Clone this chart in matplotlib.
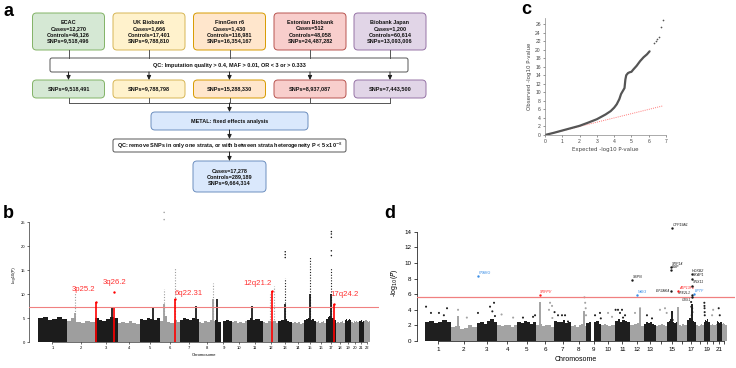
import matplotlib
matplotlib.use("Agg")
import numpy as np
import matplotlib.pyplot as plt
from matplotlib.patches import FancyBboxPatch

plt.rcParams['font.family'] = ['Liberation Sans', 'DejaVu Sans']

W, H = 736, 368

# ---------------- panel a: flowchart ----------------
cohorts = ["ECAC", "UK Biobank", "FinnGen r6", "Estonian Biobank", "Biobank Japan"]
cases = ["12,270", "1,666", "1,430", "512", "1,200"]
controls = ["46,126", "17,401", "116,981", "48,058", "60,614"]
snps_raw = ["9,518,496", "9,788,810", "16,354,167", "24,487,282", "13,093,006"]
snps_qc = ["9,518,491", "9,788,798", "15,288,330", "8,937,087", "7,443,500"]
meta_cases, meta_controls, meta_snps = "17,278", "289,189", "9,664,314"
qc1_text = "QC: Imputation quality > 0.4, MAF > 0.01, OR < 3 or > 0.333"
metal_text = "METAL: fixed effects analysis"
qc2_text = "QC: remove SNPs in only one strata, or with between strata heterogeneity P < 5 x10$^{-8}$"
fills = ["#d5e8d4", "#fff2cc", "#ffe6cc", "#f8cecc", "#e1d5e7"]
edges = ["#82b366", "#d6b656", "#d79b00", "#b85450", "#9673a6"]
blue_fill, blue_edge = "#dae8fc", "#6c8ebf"

# ---------------- chromosome sizes (Mb) ----------------
chrom_mb = [249, 243, 198, 191, 181, 171, 159, 146, 141, 136, 135,
            134, 115, 107, 103, 90, 81, 78, 59, 63, 48, 51]

# ---------------- panel b: Manhattan (GWAS) ----------------
b_base = [
    [4.9, 5.2, 4.6, 4.8, 5.3, 4.7], [4.3, 5.0, 4.2, 4.0, 4.4, 4.1],
    [5.0, 4.6, 4.3, 4.8, 5.2, 5.0], [4.0, 4.2, 3.9, 4.3, 4.0, 3.8],
    [4.8, 4.6, 5.0, 4.7, 4.5, 4.9], [4.4, 5.5, 4.2, 4.0, 4.5, 4.1],
    [4.6, 5.0, 4.8, 4.5, 5.1, 4.7], [4.2, 4.0, 4.3, 4.1, 4.6, 4.4],
    [4.5, 4.2, 0.0, 4.4, 4.6, 4.3], [4.1, 4.3, 4.0, 4.2, 3.9, 4.4],
    [4.6, 4.9, 4.5, 4.8, 4.7, 4.4], [4.2, 4.0, 4.4, 4.1, 4.3, 4.0],
    [4.3, 4.6, 4.5, 4.7, 4.4, 4.2], [3.9, 4.1, 4.0, 4.2, 3.8, 4.0],
    [4.6, 4.8, 5.0, 4.5, 4.7, 4.4], [4.1, 4.3, 4.0, 4.2, 4.4, 4.0],
    [4.8, 5.2, 5.5, 4.9, 5.0, 4.6], [4.0, 4.2, 3.9, 4.1, 4.3, 4.0],
    [4.5, 4.7, 4.4, 4.6, 4.8, 4.5], [4.2, 4.0, 4.3, 4.1, 4.4, 4.2],
    [4.4, 4.6, 4.3, 4.5, 4.2, 4.4], [4.3, 4.5, 4.6, 4.4, 4.2, 4.3],
]
# dense signal columns (chrom, pos Mb, top -log10 P)
b_dense = [(2, 72, 6.0), (3, 150, 7.3), (5, 120, 7.0), (6, 32, 8.0),
           (7, 137, 7.5), (8, 128, 9.0), (9, 10, 9.0), (11, 45, 7.5),
           (13, 60, 8.0), (15, 51, 10.0), (17, 45, 10.0)]
# sparse (dotted) columns
b_sparse = [(2, 72, 10.5), (6, 32, 11.0), (6, 124, 15.4), (8, 128, 12.3),
            (12, 60, 10.0), (12, 100, 11.6), (13, 60, 13.3), (15, 51, 17.7),
            (17, 45, 15.5)]
b_points = [(6, 32, 25.5), (6, 32, 27.0), (13, 60, 17.6), (13, 60, 18.2),
            (13, 60, 18.8), (17, 45, 18.0), (17, 45, 19.0), (17, 45, 21.8),
            (17, 45, 22.5), (17, 45, 23.0)]
b_loci = ["3p25.2", "3q26.2", "6q22.31", "12q21.2", "17q24.2"]
b_loci_chr = [3, 3, 6, 12, 17]
b_loci_pos = [12, 169, 124, 77, 64]
b_loci_top = [8.3, 7.0, 9.0, 10.6, 8.0]
b_loci_lead = [8.3, 10.4, 9.0, 10.6, 8.0]
b_threshold = 7.3

# ---------------- panel c: QQ plot ----------------
qq_exp = [0, 0.5, 1, 1.5, 2, 2.5, 3, 3.5, 3.8, 4.0, 4.15, 4.3, 4.4, 4.5,
          4.6, 4.65, 4.7, 4.8, 4.9, 5.0, 5.1, 5.3, 5.5, 5.7, 5.9, 6.05]
qq_obs = [0, 0.5, 1.05, 1.6, 2.15, 2.9, 3.7, 4.8, 5.6, 6.4, 7.2, 8.4, 9.6,
          10.3, 11.0, 13.0, 14.0, 14.5, 14.7, 14.8, 15.3, 16.2, 17.3, 18.2, 18.9, 19.6]
qq_top_exp = [6.3, 6.4, 6.5, 6.6, 6.7, 6.85]
qq_top_obs = [21.5, 22.0, 22.5, 23.0, 25.3, 27.0]

# ---------------- panel d: Manhattan (TWAS) ----------------
d_base = [
    [2.4, 2.6, 2.3, 2.5, 2.7, 2.4], [1.8, 1.9, 1.6, 1.7, 2.0, 1.8],
    [2.3, 2.5, 2.2, 2.6, 2.8, 2.5], [2.0, 1.9, 2.1, 2.0, 1.8, 2.1],
    [2.5, 2.3, 2.6, 2.4, 2.2, 2.5], [2.0, 2.2, 1.9, 2.1, 2.0, 1.8],
    [2.6, 2.4, 2.5, 2.7, 2.3, 2.5], [1.9, 2.0, 1.8, 2.1, 2.2, 1.9],
    [2.3, 2.5, 0.0, 2.4, 2.6, 2.2], [2.0, 2.2, 2.1, 1.9, 2.0, 2.1],
    [2.6, 2.8, 2.5, 2.7, 2.6, 2.4], [2.1, 2.0, 2.2, 2.3, 2.0, 1.9],
    [2.2, 2.4, 2.3, 2.5, 2.2, 2.1], [1.9, 2.1, 2.0, 2.2, 2.0, 1.9],
    [2.4, 2.6, 2.8, 2.5, 2.3, 2.4], [2.0, 2.1, 1.9, 2.2, 2.0, 2.1],
    [2.7, 2.9, 3.0, 2.8, 2.6, 2.5], [2.0, 2.1, 1.9, 2.0, 2.2, 2.0],
    [2.5, 2.7, 2.6, 2.8, 2.5, 2.4], [2.1, 2.0, 2.2, 2.1, 2.0, 2.2],
    [2.4, 2.6, 2.5, 2.3, 2.4, 2.5], [2.2, 2.1, 2.3, 2.2, 2.0, 2.1],
]
d_cols = [(6, 30, 5.0), (16, 3, 4.4), (12, 100, 4.2), (8, 128, 3.8),
          (15, 45, 3.8), (17, 42, 4.8), (2, 66, 3.2)]
d_points = [
    (1, 10, 4.4), (1, 57, 3.6), (1, 133, 3.6), (1, 210, 4.2), (1, 180, 3.3),
    (2, 66, 4.0), (2, 150, 3.0), (3, 13, 3.6), (3, 128, 4.4), (3, 166, 4.9),
    (3, 175, 3.2), (3, 150, 3.8), (4, 40, 3.4), (4, 150, 3.0),
    (5, 53, 3.0), (5, 149, 3.1), (5, 168, 3.3), (6, 130, 4.9), (6, 149, 4.5),
    (6, 120, 4.0), (6, 152, 2.95), (7, 2, 3.7), (7, 35, 3.3), (7, 73, 3.3),
    (7, 102, 3.3), (7, 130, 2.5), (8, 128, 5.6), (8, 135, 4.9), (8, 140, 4.2),
    (8, 143, 3.3), (9, 83, 3.3), (9, 130, 3.6), (9, 138, 2.9), (10, 66, 3.6),
    (10, 104, 3.1), (11, 2, 4.0), (11, 25, 4.0), (11, 63, 4.0), (11, 44, 3.6),
    (11, 92, 3.3), (11, 73, 3.0), (12, 52, 3.6), (12, 100, 4.2), (13, 32, 3.3),
    (13, 80, 2.9), (14, 41, 4.0), (14, 89, 4.2), (14, 105, 3.6), (15, 49, 3.6),
    (15, 55, 2.7), (17, 38, 5.0), (17, 40, 4.4), (17, 48, 4.2), (17, 44, 3.3),
    (17, 50, 3.7), (19, 5, 4.9), (19, 6, 4.5), (19, 7, 4.2), (19, 8, 3.7),
    (19, 9, 3.3), (20, 30, 4.0), (20, 20, 3.3), (21, 20, 4.2), (21, 30, 3.3),
]
d_genes = ["PPARG", "SRPPV", "SSPN", "NAV3", "CYP19A1", "SRP14", "BMF",
           "EIF2AK4", "ATP13P2", "HOXB2", "SKAP1", "SNX11", "NFE2L1", "CBX1", "BPTF"]
d_gene_chr = [3, 6, 12, 12, 15, 15, 15, 15, 16, 17, 17, 17, 17, 17, 17]
d_gene_pos = [13, 30, 23, 71, 51, 40, 40, 40, 3, 42, 43, 43, 42, 42, 65]
d_gene_y = [8.3, 5.9, 7.8, 5.9, 14.5, 9.5, 9.1, 6.4, 6.4, 8.6, 8.0, 7.1, 5.9, 5.6, 6.0]
d_gene_col = ["blue", "red", "black", "blue", "black", "black", "black", "black",
              "red", "black", "black", "black", "black", "black", "blue"]
d_gene_left = [False, False, False, False, False, False, False, True,
               False, False, False, False, True, True, False]
d_threshold = 5.6
d_tick_show = [1, 2, 3, 4, 5, 6, 7, 8, 9, 10, 11, 12, 13, 15, 17, 19, 21]

# ---------------- helpers ----------------
starts = np.concatenate([[0], np.cumsum(chrom_mb)[:-1]])
centers = starts + np.array(chrom_mb) / 2.0
genome_end = float(np.sum(chrom_mb))


def gx(ch, pos):
    return starts[ch - 1] + pos


def draw_base(ax, base, dark, light):
    for i, hs in enumerate(base):
        seg = chrom_mb[i] / len(hs)
        lefts = starts[i] + seg * np.arange(len(hs))
        ax.bar(lefts, hs, width=seg, align='edge', linewidth=0,
               color=dark if i % 2 == 0 else light, zorder=1)


fig = plt.figure(figsize=(W / 100, H / 100), dpi=100)

# ---------- flowchart overlay ----------
axa = fig.add_axes([0, 0, 1, 1])
axa.set_xlim(0, W)
axa.set_ylim(H, 0)
axa.axis('off')
LC = "#555555"


def box(x0, y0, x1, y1, fc, ec, txt, r=4, fs=4.0, ls=1.25):
    axa.add_patch(FancyBboxPatch((x0, y0), x1 - x0, y1 - y0,
                                 boxstyle="round,pad=0,rounding_size=%g" % r,
                                 fc=fc, ec=ec, lw=0.7))
    axa.text((x0 + x1) / 2, (y0 + y1) / 2, txt, ha='center', va='center',
             fontsize=fs, fontweight='bold', linespacing=ls, color="#111111")


def arrow(x, y0, y1):
    axa.annotate("", xy=(x, y1), xytext=(x, y0),
                 arrowprops=dict(arrowstyle="-|>,head_length=0.25,head_width=0.12",
                                 color="#222222", lw=0.7, shrinkA=0, shrinkB=0))


cx = [68.5, 149, 229.5, 310, 390]
bw = 72
for i in range(5):
    box(cx[i] - bw / 2, 13, cx[i] + bw / 2, 50, fills[i], edges[i],
        "%s\nCases=%s\nControls=%s\nSNPs=%s" % (cohorts[i], cases[i], controls[i], snps_raw[i]))
    axa.plot([cx[i], cx[i]], [50, 58], color=LC, lw=0.7)
    arrow(cx[i], 72, 80)
    box(cx[i] - bw / 2, 80, cx[i] + bw / 2, 98, fills[i], edges[i], "SNPs=%s" % snps_qc[i])
    axa.plot([cx[i], cx[i]], [98, 103], color=LC, lw=0.7)
box(50, 58, 408, 72, "white", LC, qc1_text, r=2)
axa.plot([cx[0], cx[-1]], [103, 103], color=LC, lw=0.7)
arrow(229.5, 103, 112)
box(151, 112, 308, 130, blue_fill, blue_edge, metal_text)
arrow(229.5, 130, 139)
box(113, 139, 346, 152, "white", LC, qc2_text, r=2)
arrow(229.5, 152, 161)
box(193, 161, 266, 192, blue_fill, blue_edge,
    "Cases=%s\nControls=%s\nSNPs=%s" % (meta_cases, meta_controls, meta_snps))

for lab, (px, py) in zip("abcd", [(4, 12), (3, 214), (521, 9), (384, 214)]):
    axa.text(px, py, lab, fontsize=13, fontweight='bold', ha='left', va='center')

# ---------- panel b ----------
sb = 332 / genome_end
axb = fig.add_axes([29 / W, (H - 342) / H, 350 / W, 134.4 / H])
draw_base(axb, b_base, "#1c1c1c", "#9e9e9e")
for ch, pos, top in b_dense:
    axb.vlines(gx(ch, pos), 0, top, color="#1c1c1c" if ch % 2 else "#9e9e9e", lw=1.3, zorder=2)
for ch, pos, top in b_sparse:
    axb.vlines(gx(ch, pos), 0, top, color="#1c1c1c" if ch % 2 else "#9e9e9e",
               lw=0.8, linestyles=(0, (1, 1.5)), zorder=2)
axb.scatter([gx(c, p) for c, p, _ in b_points], [y for _, _, y in b_points],
            s=1.2, color=["#1c1c1c" if c % 2 else "#9e9e9e" for c, _, _ in b_points],
            lw=0, zorder=3)
axb.axhline(b_threshold, color="#f08080", lw=0.8, zorder=4)
offs = [(-3, 2.6, 'right'), (0, 2.0, 'center'), (2, 1.2, 'left'), (0, 1.6, 'right'), (-25, 2.0, 'left')]
for k in range(5):
    x = gx(b_loci_chr[k], b_loci_pos[k])
    axb.vlines(x, 0, b_loci_top[k], color="red", lw=1.2, zorder=5)
    axb.scatter([x], [b_loci_lead[k]], s=3, color="red", lw=0, zorder=5)
    dx, dy, ha = offs[k]
    axb.text(x + dx, b_loci_lead[k] + dy, b_loci[k], color="#ff3333",
             fontsize=5.6, ha=ha, va='center')
axb.set_xlim(-9 / sb, 341 / sb)
axb.set_ylim(0, 28)
for s in ['top', 'right']:
    axb.spines[s].set_visible(False)
axb.spines['left'].set_bounds(0, 25)
axb.spines['bottom'].set_bounds(centers[0], centers[-1])
for s in ['left', 'bottom']:
    axb.spines[s].set_linewidth(0.4)
axb.set_yticks([0, 5, 10, 15, 20, 25])
axb.set_xticks(centers)
axb.set_xticklabels([str(i + 1) for i in range(22)])
axb.tick_params(labelsize=3, length=1.5, width=0.4, pad=1.5)
axb.set_xlabel("Chromosome", fontsize=3, labelpad=2)
axb.set_ylabel("-log10(P)", fontsize=3, labelpad=3)

# ---------- panel c ----------
axc = fig.add_axes([545 / W, (H - 135) / H, 121 / W, 117.4 / H])
axc.plot([0, 6.8], [0, 6.8], color="#ff7777", ls=(0, (1, 1.2)), lw=0.7, zorder=1)
axc.plot(qq_exp, qq_obs, color="#555555", lw=1.6, zorder=2, solid_capstyle='round')
axc.scatter(qq_top_exp, qq_top_obs, s=1.5, color="#555555", lw=0, zorder=2)
axc.set_xlim(0, 7)
axc.set_ylim(0, 27.5)
axc.set_xticks(range(0, 8))
axc.set_yticks(range(0, 27, 2))
for s in ['top', 'right']:
    axc.spines[s].set_visible(False)
for s in ['left', 'bottom']:
    axc.spines[s].set_color("#888888")
    axc.spines[s].set_linewidth(0.5)
axc.tick_params(labelsize=3.6, length=1.5, width=0.4, pad=1.5, colors="#444444")
axc.set_xlabel("Expected -log10 P-value", fontsize=4, color="#444444", labelpad=2,
               family='DejaVu Sans')
axc.set_ylabel("Observed -log10 P-value", fontsize=4, color="#444444", labelpad=2,
               family='DejaVu Sans')

# ---------- panel d ----------
sd = 302 / genome_end
axd = fig.add_axes([417 / W, (H - 341) / H, 318 / W, 117 / H])
draw_base(axd, d_base, "#1f1f1f", "#a3a3a3")
for ch, pos, top in d_cols:
    axd.vlines(gx(ch, pos), 0, top, color="#1f1f1f" if ch % 2 else "#a3a3a3", lw=1.4, zorder=2)
axd.scatter([gx(c, p) for c, p, _ in d_points], [y for _, _, y in d_points],
            s=2.2, color=["#1f1f1f" if c % 2 else "#a3a3a3" for c, _, _ in d_points],
            lw=0, zorder=3)
axd.axhline(d_threshold, color="#f08080", lw=0.9, zorder=4)
cmap = {"black": "#1a1a1a", "red": "#ff2020", "blue": "#3a8ee6"}
for k, g in enumerate(d_genes):
    x = gx(d_gene_chr[k], d_gene_pos[k])
    c = cmap[d_gene_col[k]]
    axd.scatter([x], [d_gene_y[k]], s=3, color=c, lw=0, zorder=5)
    if d_gene_left[k]:
        # stack left-hand labels so they do not collide
        ty = d_gene_y[k] + (0.2 if g == "NFE2L1" else (-0.35 if g == "CBX1" else 0))
        axd.text(x - 8, ty, g, fontsize=2.5, color=c, style='italic',
                 ha='right', va='center')
    else:
        axd.text(x + 8, d_gene_y[k] + 0.15, g, fontsize=2.6, color=c, style='italic',
                 ha='left', va='bottom')
axd.set_xlim(-8 / sd, 310 / sd)
axd.set_ylim(0, 15)
for s in ['top', 'right']:
    axd.spines[s].set_visible(False)
axd.spines['left'].set_bounds(0, 14)
axd.spines['bottom'].set_bounds(centers[0], centers[-1])
for s in ['left', 'bottom']:
    axd.spines[s].set_linewidth(0.5)
axd.set_yticks(range(0, 15, 2))
axd.set_xticks(centers)
axd.set_xticklabels([str(i + 1) if (i + 1) in d_tick_show else "" for i in range(22)])
axd.tick_params(labelsize=4.5, length=2, width=0.5, pad=2)
axd.set_xlabel("Chromosome", fontsize=5, labelpad=3)
axd.set_ylabel("-log$_{10}$($P$)", fontsize=5, labelpad=3)

fig.savefig("out.png", dpi=100)
